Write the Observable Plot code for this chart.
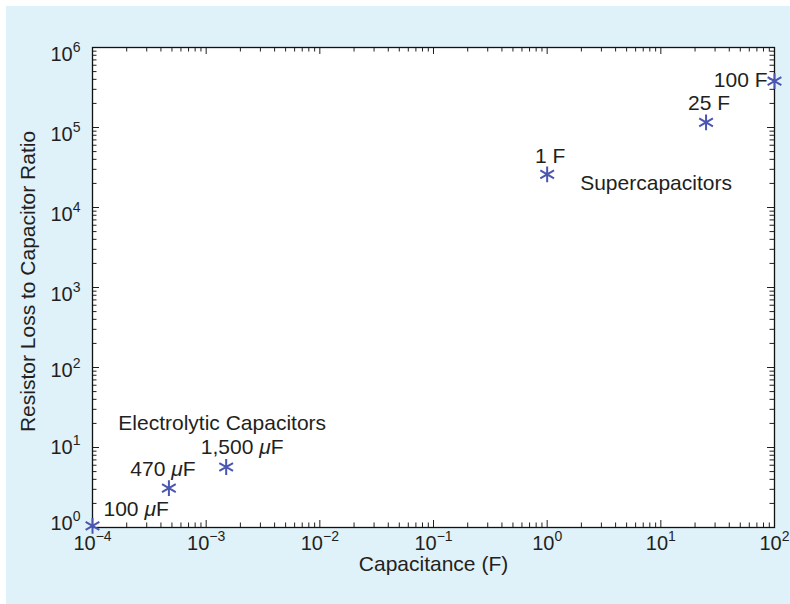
<!DOCTYPE html>
<html><head><meta charset="utf-8">
<script src="https://cdn.jsdelivr.net/npm/d3@7"></script>
<script src="https://cdn.jsdelivr.net/npm/@observablehq/plot@0.6"></script>
<style>
body{margin:0;background:#fff;}
#wrap{position:relative;width:790px;height:604px;overflow:hidden;background:#fff;}
#panel{position:absolute;left:6px;top:6px;right:0;bottom:0;background:#dff1f9;}
#chart{position:absolute;left:0;top:0;}
</style></head><body>
<div id="wrap"><div id="panel"></div><div id="chart"></div></div>
<script>
// ---- data ----
const capacitance = [1e-4, 4.7e-4, 1.5e-3, 1, 25, 100];
const ratio = [1.05, 3.1, 5.7, 26000, 116000, 380000];
const pointLabels = ["100 μF", "470 μF", "1,500 μF", "1 F", "25 F", "100 F"];
const groupLabels = ["Electrolytic Capacitors", "Supercapacitors"];
const groupAnchor = [2, 3];
const xExponents = [-4, -3, -2, -1, 0, 1, 2];
const yExponents = [0, 1, 2, 3, 4, 5, 6];
const xTitle = "Capacitance (F)";
const yTitle = "Resistor Loss to Capacitor Ratio";

// ---- layout / style ----
const W = 790, H = 604, mL = 92, mR = 16, mT = 47, mB = 77;
const innerW = W - mL - mR, innerH = H - mT - mB;
const ink = "#231f20", markerColor = "#4a56b0";
const font = "'Liberation Sans', Arial, Helvetica, sans-serif";
const labelLayout = [
  {dx: 11, dy: -17, anchor: "start"},
  {dx: -6, dy: -19, anchor: "middle"},
  {dx: 16, dy: -20, anchor: "middle"},
  {dx: 3, dy: -18, anchor: "middle"},
  {dx: 3, dy: -19, anchor: "middle"},
  {dx: -7, dy: -1, anchor: "end"}
];
const groupLayout = [
  {dx: -4, dy: -44, anchor: "middle"},
  {dx: 33, dy: 9, anchor: "start"}
];
const yLabelDy = k => (k >= 3 ? 7 : k === 2 ? 3 : k === 1 ? 0.5 : -4);

const points = capacitance.map((c, i) => ({c, r: ratio[i], label: pointLabels[i]}));

const expText = k => "10^" + (k < 0 ? "−" + (-k) : String(k));
const xMajor = xExponents.map(k => 10 ** k);
const yMajor = yExponents.map(k => 10 ** k);
const minorOf = majors => {
  const out = [];
  for (let i = 0; i < majors.length - 1; i++) for (let m = 2; m <= 9; m++) out.push(majors[i] * m);
  return out;
};
const xMinor = minorOf(xMajor), yMinor = minorOf(yMajor);
const majLen = 7, minLen = 4.5;

const marks = [
  Plot.frame({fill: "white", stroke: null}),
  // inward ticks on all four sides
  Plot.tickX(xMajor, {x: d => d, insetTop: innerH - majLen, stroke: ink}),
  Plot.tickX(xMajor, {x: d => d, insetBottom: innerH - majLen, stroke: ink}),
  Plot.tickX(xMinor, {x: d => d, insetTop: innerH - minLen, stroke: ink}),
  Plot.tickX(xMinor, {x: d => d, insetBottom: innerH - minLen, stroke: ink}),
  Plot.tickY(yMajor, {y: d => d, insetRight: innerW - majLen, stroke: ink}),
  Plot.tickY(yMajor, {y: d => d, insetLeft: innerW - majLen, stroke: ink}),
  Plot.tickY(yMinor, {y: d => d, insetRight: innerW - minLen, stroke: ink}),
  Plot.tickY(yMinor, {y: d => d, insetLeft: innerW - minLen, stroke: ink}),
  Plot.frame({stroke: "#111", strokeWidth: 1.3}),
  // tick labels
  Plot.text(xExponents, {x: k => 10 ** k, text: expText, frameAnchor: "bottom", dy: 22, fontSize: 20, fill: ink, textAnchor: "middle"}),
  ...yExponents.map(k => Plot.text([k], {y: d => 10 ** d, text: expText, frameAnchor: "left", dx: -12, dy: yLabelDy(k), fontSize: 20, fill: ink, textAnchor: "end"})),
  // axis titles
  Plot.text([xTitle], {text: d => d, frameAnchor: "bottom", dy: 43, fontSize: 21, fill: ink, textAnchor: "middle"}),
  Plot.text([yTitle], {text: d => d, frameAnchor: "left", dx: -64, dy: -6, rotate: -90, fontSize: 21, fill: ink, textAnchor: "middle"}),
  // points
  Plot.dot(points, {x: "c", y: "r", symbol: "asterisk", r: 7.5, stroke: markerColor, strokeWidth: 2}),
  // point labels
  ...points.map((p, i) => Plot.text([p], {x: "c", y: "r", text: "label", dx: labelLayout[i].dx, dy: labelLayout[i].dy, textAnchor: labelLayout[i].anchor, fontSize: 21, fill: ink})),
  // group labels
  ...groupLabels.map((g, i) => Plot.text([points[groupAnchor[i]]], {x: "c", y: "r", text: () => g, dx: groupLayout[i].dx, dy: groupLayout[i].dy, textAnchor: groupLayout[i].anchor, fontSize: 21, fill: ink}))
];

const chart = Plot.plot({
  width: W, height: H,
  marginLeft: mL, marginRight: mR, marginTop: mT, marginBottom: mB,
  style: {background: "transparent", overflow: "visible", fontFamily: font, color: ink},
  x: {type: "log", domain: [1e-4, 1e2], axis: null},
  y: {type: "log", domain: [1, 1e6], axis: null},
  marks
});

// rich text: superscripts and italic mu
const NS = "http://www.w3.org/2000/svg";
chart.querySelectorAll("text").forEach(t => {
  const s = t.textContent;
  const m = /^10\^(.+)$/.exec(s);
  if (m) {
    t.textContent = "";
    const a = document.createElementNS(NS, "tspan"); a.textContent = "10";
    const b = document.createElementNS(NS, "tspan"); b.textContent = m[1];
    b.setAttribute("dy", "-9"); b.setAttribute("font-size", "14");
    t.appendChild(a); t.appendChild(b);
  } else if (s.includes("μ")) {
    const [pre, post] = s.split("μ");
    t.textContent = "";
    const a = document.createElementNS(NS, "tspan"); a.textContent = pre;
    const b = document.createElementNS(NS, "tspan"); b.textContent = "μ"; b.setAttribute("font-style", "italic");
    const c = document.createElementNS(NS, "tspan"); c.textContent = post;
    t.appendChild(a); t.appendChild(b); t.appendChild(c);
  }
});
document.getElementById("chart").appendChild(chart);
</script>
</body></html>
